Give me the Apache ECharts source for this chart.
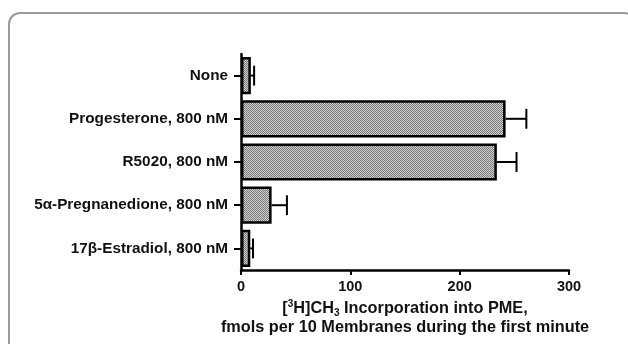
<!DOCTYPE html>
<html><head><meta charset="utf-8">
<script src="https://cdn.jsdelivr.net/npm/echarts@6/dist/echarts.min.js"></script>
<style>html,body{margin:0;padding:0;background:#fff}#c{width:628px;height:344px}</style>
</head><body><div id="c"></div>
<script>
var categories = ['None', 'Progesterone, 800 nM', 'R5020, 800 nM', '5\u03b1-Pregnanedione, 800 nM', '17\u03b2-Estradiol, 800 nM'];
var means = [9, 242, 234, 28, 8.5];
var errors = [3, 19, 18, 14, 2.5];
var xTicks = [0, 100, 200, 300];

var pc = document.createElement('canvas');
pc.width = 2; pc.height = 2;
var pctx = pc.getContext('2d');
pctx.fillStyle = '#d0d0d0'; pctx.fillRect(0, 0, 2, 2);
pctx.fillStyle = '#7a7a7a'; pctx.fillRect(0, 0, 1, 1); pctx.fillRect(1, 1, 1, 1);

var chart = echarts.init(document.getElementById('c'));
var errData = means.map(function (m, i) { return [m, i, m + errors[i]]; });
var font = 'Liberation Sans, Arial, sans-serif';
chart.setOption({
  animation: false,
  graphic: [{
    type: 'rect', shape: { x: 9, y: 13, width: 626, height: 400, r: 11 },
    style: { fill: 'none', stroke: '#9a9a9a', lineWidth: 2 }, silent: true, z: -1
  }],
  grid: { left: 241, right: 59, top: 54, bottom: 74, containLabel: false },
  xAxis: {
    type: 'value', min: 0, max: 300, interval: 100,
    axisLine: { show: true, lineStyle: { color: '#000', width: 2.5 } },
    axisTick: { show: true, length: 5, lineStyle: { color: '#000', width: 2 } },
    splitLine: { show: false },
    axisLabel: { color: '#111', fontWeight: 'bold', fontSize: 14.5, fontFamily: font, margin: 9,
      formatter: function (v) { return xTicks.indexOf(v) >= 0 ? String(v) : ''; } },
    name: '[{sup|3}H]CH{sub|3} Incorporation into PME,\nfmols per 10 Membranes during the first minute',
    nameLocation: 'middle', nameGap: 28,
    nameTextStyle: {
      color: '#111', fontWeight: 'bold', fontSize: 16.3, fontFamily: font, lineHeight: 19,
      verticalAlign: 'top',
      rich: {
        sup: { fontSize: 10, fontWeight: 'bold', fontFamily: font, color: '#111', verticalAlign: 'top', padding: [0, 0, 7, 0] },
        sub: { fontSize: 10, fontWeight: 'bold', fontFamily: font, color: '#111', verticalAlign: 'bottom', padding: [7, 0, 0, 0] }
      }
    }
  },
  yAxis: {
    type: 'category', data: categories, inverse: true,
    axisLine: { show: true, lineStyle: { color: '#000', width: 2.5 } },
    axisTick: { show: true, alignWithLabel: true, length: 7, lineStyle: { color: '#000', width: 2 } },
    axisLabel: { color: '#111', fontWeight: 'bold', fontSize: 15.3, fontFamily: font, margin: 13 }
  },
  series: [{
    type: 'bar', data: means, barCategoryGap: '14%',
    itemStyle: { color: { image: pc, repeat: 'repeat' }, borderColor: '#000', borderWidth: 2.5 },
    z: 2
  }, {
    type: 'custom', data: errData, z: 3,
    renderItem: function (params, api) {
      var p0 = api.coord([api.value(0), api.value(1)]);
      var p1 = api.coord([api.value(2), api.value(1)]);
      var h = api.size([0, 1])[1] * 0.23;
      return { type: 'group', children: [
        { type: 'line', shape: { x1: p0[0], y1: p0[1], x2: p1[0], y2: p1[1] }, style: { stroke: '#000', lineWidth: 2 } },
        { type: 'line', shape: { x1: p1[0], y1: p1[1] - h, x2: p1[0], y2: p1[1] + h }, style: { stroke: '#000', lineWidth: 2 } }
      ] };
    }
  }]
});
</script></body></html>
